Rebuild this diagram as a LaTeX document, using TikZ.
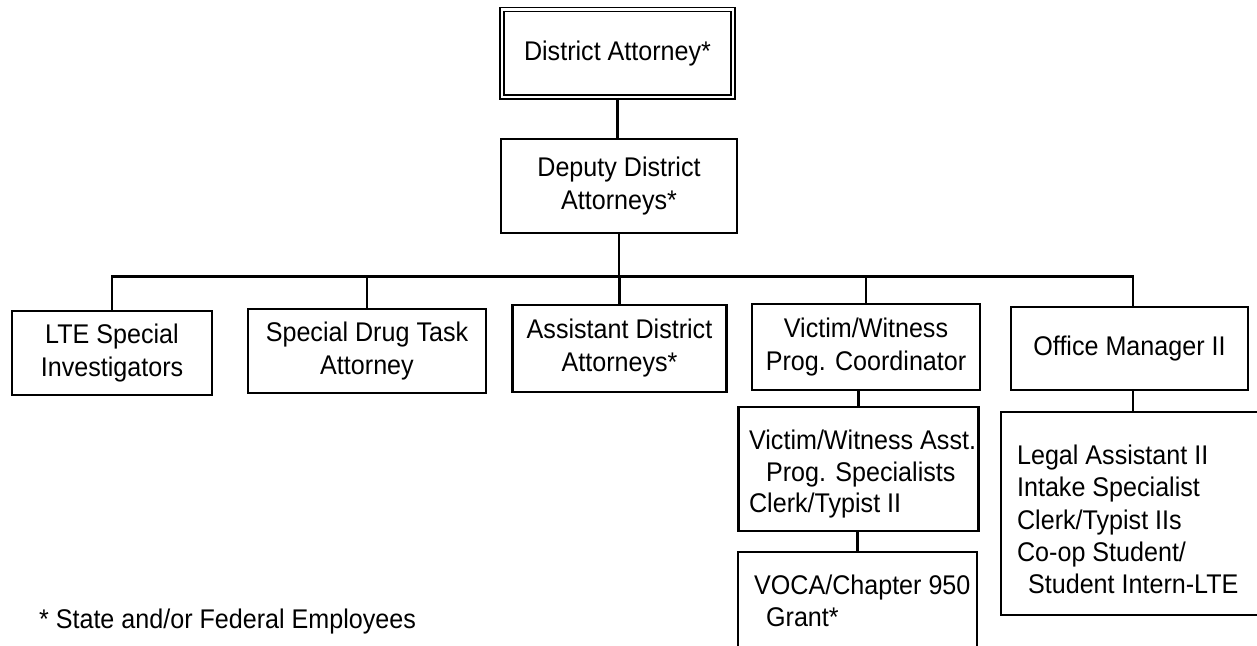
\documentclass[tikz,border=0pt]{standalone}
\usepackage{fontspec}
\setmainfont{Liberation Sans}[FakeStretch=0.93]
\newcommand\orgfs{\fontsize{27}{33}\selectfont}
\begin{document}
\begin{tikzpicture}[x=1pt,y=-1pt, line width=2.2pt,
  box/.style={draw, rectangle, inner sep=0pt, align=center, font=\orgfs},
  txt/.style={inner sep=0pt, font=\orgfs, anchor=base west}]
\path[use as bounding box] (0,0) rectangle (1257,645);
\clip (0,0) rectangle (1257,645);
\node[box, double, double distance=2.5pt, line width=1.6pt, minimum width=231pt, minimum height=87.5pt] (da) at (617.5,53.25) {District Attorney*};
\node[box, minimum width=236pt, minimum height=94pt] (dep) at (619,186) {Deputy District\\Attorneys*};
\node[box, minimum width=200pt, minimum height=84pt] (lte) at (112,353) {LTE Special\\Investigators};
\node[box, minimum width=238pt, minimum height=84pt] (sdt) at (367,351) {Special Drug Task\\Attorney};
\node[box, minimum width=214pt, minimum height=87pt] (ada) at (619.5,348.5) {Assistant District\\Attorneys*};
\node[box, minimum width=228pt, minimum height=86pt] (vwc) at (866,347) {Victim/Witness\\Prog. Coordinator};
\node[box, minimum width=237pt, minimum height=83pt] (om) at (1129.5,348.5) {Office Manager II};
\node[box, minimum width=240pt, minimum height=124pt] (vwa) at (858.5,469) {};
\node[box, minimum width=239pt, minimum height=130pt] (voca) at (857.5,617) {};
\node[box, minimum width=264pt, minimum height=203pt] (oms) at (1133,513.5) {};
\coordinate (bus) at (0,276.5);
\draw (da.south) -- (da.south |- dep.north);
\draw (dep.south) -- (dep.south |- bus);
\draw (lte.north) -- (lte.north |- bus) -- (oms.north |- bus) -- (om.north -| oms.north);
\draw (sdt.north) -- (sdt.north |- bus);
\draw (ada.north) -- (ada.north |- bus);
\draw (vwc.north) -- (vwc.north |- bus);
\draw (vwa.north) -- (vwa.north |- vwc.south);
\draw (voca.north) -- (voca.north |- vwa.south);
\draw (oms.north) -- (oms.north |- om.south);
\node[txt] (a1) at (748,449) {Victim/Witness Asst.};
\node[txt] (a2) at (765,481) {Prog. Specialists};
\node[txt] (a3) at (748,512) {Clerk/Typist II};
\node[txt] (v1) at (753,594.5) {VOCA/Chapter 950};
\node[txt] (v2) at (765,626) {Grant*};
\node[txt] (o1) at (1016,464) {Legal Assistant II};
\node[txt] (o2) at (1016,496) {Intake Specialist};
\node[txt] (o3) at (1016,529) {Clerk/Typist IIs};
\node[txt] (o4) at (1016,561) {Co-op Student/};
\node[txt] (o5) at (1027,593) {Student Intern-LTE};
\node[txt] (fn) at (38,628) {* State and/or Federal Employees};
\end{tikzpicture}
\end{document}
